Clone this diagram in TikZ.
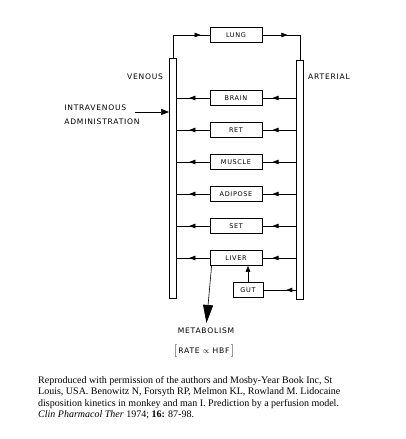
\documentclass[tikz,border=0pt]{standalone}
\usepackage{fontspec}
\setmainfont{Liberation Serif}
\newfontfamily\lblfont{DejaVu Sans}[LetterSpace=10]
\usetikzlibrary{arrows.meta,decorations.markings}
\tikzstyle{organ}=[draw, thick, minimum width=52pt, minimum height=15pt, inner sep=0pt, font=\lblfont\fontsize{6.5}{7}\selectfont]
\tikzstyle{vessel}=[draw, thick, minimum width=7pt, inner sep=0pt, anchor=north]
\tikzstyle{tag}=[font=\lblfont\fontsize{7.6}{14}\selectfont, inner sep=0pt]
\tikzstyle{arrow}=[draw=black, semithick, >={Triangle[length=6pt,width=4.5pt]}]
\tikzset{flow/.style={arrow, postaction={decorate},
    decoration={markings, mark=at position #1 with {\arrow{>}}}},
  flow/.default=0.6}

\begin{document}
\begin{tikzpicture}[x=1pt, y=-1pt]
  \useasboundingbox (0,0) rectangle (406,439);
  \begin{scope}
    % vessels
    \node (vbar) at (173,58)[vessel, minimum height=240pt] {};
    \node (rbar) at (300,60)[vessel, minimum height=239pt] {};
    \node (ven) at (145,77)[tag] {VENOUS};
    \node (art) at (329,77)[tag] {ARTERIAL};
    % organs
    \node (lung) at (236,35)[organ] {LUNG};
    \node (brain) at (236,98)[organ] {BRAIN};
    \node (ret) at (236,130)[organ] {RET};
    \node (muscle) at (236,162)[organ] {MUSCLE};
    \node (adipose) at (236,194)[organ] {ADIPOSE};
    \node (set) at (236,226)[organ] {SET};
    \node (liver) at (236,258)[organ] {LIVER};
    \node (gut) at (248,290)[organ, minimum width=30pt] {GUT};
    \node (iv) at (102,115)[tag, align=left] {INTRAVENOUS\\ADMINISTRATION};
    \coordinate (ivs) at (135,112);
    \node (metab) at (206,331)[tag] {METABOLISM};
    \node (rate) at (204,351)[tag] {$\big[$\,RATE $\propto$ HBF\,$\big]$};
    \node (ref) at (38,376)[anchor=north west, inner sep=0pt, align=left,
      font=\fontsize{10}{11.5}\selectfont] {Reproduced with permission of the authors and Mosby-Year Book Inc, St\\
      Louis, USA. Benowitz N, Forsyth RP, Melmon KL, Rowland M. Lidocaine\\
      disposition kinetics in monkey and man I. Prediction by a perfusion model.\\
      \textit{Clin Pharmacol Ther} 1974; \textbf{16:} 87-98.};
  \end{scope}
  \begin{scope}
    \path [flow=0.85] (vbar.north) |- (lung.west);
    \path [flow=0.4] (lung.east) -| (rbar.north);
    \foreach \o in {brain,ret,muscle,adipose,set,liver}{
      \path [flow=0.7] (rbar.west |- \o) -- (\o.east);
      \path [flow=0.62] (\o.west) -- (vbar.east |- \o);
    }
    \path [flow=0.3] (rbar.west |- gut) -- (gut.east);
    \path [arrow, ->] (gut.north) -- (gut.north |- liver.south);
    \path [arrow, ->, >={Triangle[length=8pt,width=6pt]}] (ivs) -- (vbar.west |- ivs);
    \path [arrow, -{Triangle[length=18pt,width=10pt]}, shorten >=5pt] ([xshift=2pt]liver.south west) -- (metab.north);
  \end{scope}
\end{tikzpicture}
\end{document}
